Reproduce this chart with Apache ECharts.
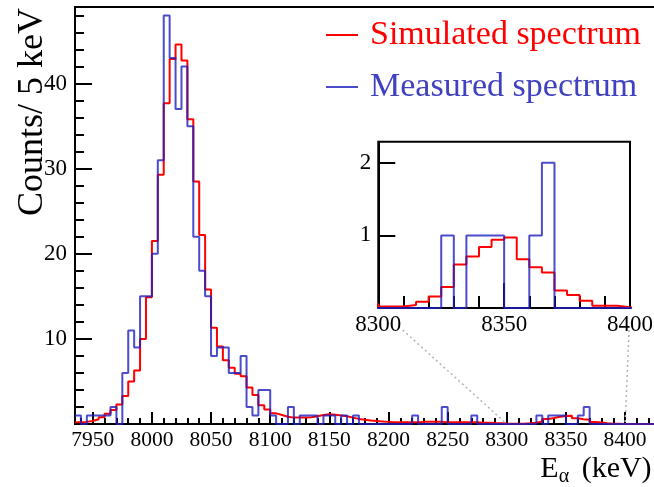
<!DOCTYPE html>
<html>
<head>
<meta charset="utf-8">
<script src="https://cdn.jsdelivr.net/npm/echarts@6/dist/echarts.min.js"></script>
<style>
  html, body { margin: 0; padding: 0; background: #fff; }
  #chart { width: 654px; height: 487px; }
</style>
</head>
<body>
<div id="chart"></div>
<script>
// histogram bins: 5 keV wide, first bin starts at 7935 keV
const binStart = 7935
const binWidth = 5

// measured spectrum (counts per bin)
const measured = [
  1, 0, 1, 1, 1, 1, 2, 0, 6, 11,          // 7935 - 7980
  9, 15, 15, 20, 31, 48, 43, 37, 42, 35,  // 7985 - 8030
  22, 18, 15, 8, 9, 9, 6, 6, 8, 2,        // 8035 - 8080
  1, 4, 4, 1, 0, 0, 2, 0, 1, 1,           // 8085 - 8130
  1, 0, 1, 1, 0, 1, 0, 1, 0, 0,           // 8135 - 8180
  0, 0, 0, 0, 0, 0, 0, 1, 0, 0,           // 8185 - 8230
  0, 0, 2, 0, 0, 0, 0, 1, 0, 0,           // 8235 - 8280
  0, 0, 0, 0, 0, 0, 0, 0, 1, 0,           // 8285 - 8330
  1, 1, 1, 0, 0, 1, 2, 0, 0, 0,           // 8335 - 8380
  0, 0, 0, 0, 0, 0, 0, 0                  // 8385 - 8420
]

// simulated spectrum
const simulated = [
  0.2, 0.25, 0.35, 0.55, 0.8, 1.2, 1.65, 2.3, 3.3, 5.0,
  6.3, 10.0, 14.9, 21.5, 29.3, 37.7, 42.9, 44.6, 42.7, 35.8,
  28.5, 22.2, 15.8, 11.3, 9.1, 7.5, 6.6, 5.9, 5.6, 4.3,
  3.4, 2.2, 1.7, 1.25, 1.05, 0.85, 0.75, 0.75, 0.75, 0.8,
  0.9, 1.05, 1.15, 1.1, 1.0, 0.9, 0.75, 0.6, 0.5, 0.4,
  0.35, 0.3, 0.25, 0.2, 0.2, 0.2, 0.2, 0.2, 0.25, 0.25,
  0.25, 0.25, 0.2, 0.2, 0.2, 0.2, 0.2, 0.2, 0.15, 0.15,
  0.12, 0.1, 0.05, 0.02, 0.02, 0.04, 0.085, 0.16, 0.29, 0.6,
  0.71, 0.84, 0.94, 0.97, 0.67, 0.56, 0.49, 0.24, 0.18, 0.1,
  0.03, 0.03, 0.01, 0, 0, 0, 0, 0
]

const xTickLabels = [7950, 8000, 8050, 8100, 8150, 8200, 8250, 8300, 8350, 8400]
const yTickLabels = [10, 20, 30, 40]
const insetXTickLabels = [8300, 8350, 8400]
const insetYTickLabels = [1, 2]
const legendNames = ['Simulated spectrum', 'Measured spectrum']

const serif = 'Liberation Serif'
const black = '#000'
const red = '#ff0000'
const blue = 'rgba(30,30,190,0.8)'

// minor tick positions
const xMinor = []
for (let v = 7940; v <= 8420; v += 10) if (v % 50) xMinor.push(v)
const yMinor = []
for (let v = 2; v < 49; v += 2) if (v % 10) yMinor.push(v)
const insetMinor = []
for (let v = 8310; v < 8400; v += 10) if (v !== 8350) insetMinor.push(v)

// bins -> points for a step line (last bin closed on its right edge)
const toSteps = (values) => {
  const pts = values.map((v, i) => [binStart + i * binWidth, v])
  pts.push([binStart + values.length * binWidth, values[values.length - 1]])
  return pts
}

const tick = (len, values) => ({
  inside: true, length: len, customValues: values,
  lineStyle: { color: black, width: 2 }
})
const plain = (v) => String(v)

const chart = echarts.init(document.getElementById('chart'))

const options = {
  animation: false,
  grid: [
    { left: 75, top: 7, width: 585.6, height: 417, outerBoundsMode: 'none', show: true, borderColor: black, borderWidth: 2 },
    { left: 378.3, top: 141.7, width: 251.7, height: 166.3, outerBoundsMode: 'none', show: true, borderColor: black, borderWidth: 2, backgroundColor: '#fff' }
  ],
  legend: {
    data: [
      { name: legendNames[0], textStyle: { color: red } },
      { name: legendNames[1], textStyle: { color: '#4040c0' } }
    ],
    orient: 'vertical',
    left: 321,
    top: 13,
    icon: 'rect',
    itemWidth: 32,
    itemHeight: 2,
    itemGap: 18,
    selectedMode: false,
    textStyle: { fontFamily: serif, fontSize: 34, padding: [0, 0, 0, 7] }
  },
  xAxis: [
    {
      gridIndex: 0, type: 'value', min: 7935, max: 8430,
      axisLine: { lineStyle: { color: black, width: 2 } },
      axisTick: tick(12, xTickLabels),
      axisLabel: { customValues: xTickLabels, formatter: plain, margin: 5, fontFamily: serif, fontSize: 21.5, color: black },
      splitLine: { show: false },
      name: '{a|E}{b|α }{a| (keV)}',
      nameLocation: 'end',
      nameGap: -9,
      nameMoveOverlap: false,
      nameTextStyle: {
        align: 'right', verticalAlign: 'top', padding: [27, 0, 0, 0], color: black,
        rich: {
          a: { fontFamily: serif, fontSize: 30, lineHeight: 36, color: black },
          b: { fontFamily: serif, fontSize: 20, lineHeight: 14, verticalAlign: 'bottom', color: black }
        }
      }
    },
    {
      gridIndex: 0, type: 'value', min: 7935, max: 8430, position: 'bottom',
      axisLine: { show: false }, axisTick: tick(6, xMinor),
      axisLabel: { show: false }, splitLine: { show: false }
    },
    {
      gridIndex: 1, type: 'value', min: 8300, max: 8400,
      axisLine: { lineStyle: { color: black, width: 2 } },
      axisTick: tick(25, [8350]),
      axisLabel: { customValues: insetXTickLabels, formatter: plain, showMinLabel: true, showMaxLabel: true, margin: 5, fontFamily: serif, fontSize: 23, color: black },
      splitLine: { show: false }
    },
    {
      gridIndex: 1, type: 'value', min: 8300, max: 8400, position: 'bottom',
      axisLine: { show: false }, axisTick: tick(12, insetMinor),
      axisLabel: { show: false }, splitLine: { show: false }
    }
  ],
  yAxis: [
    {
      gridIndex: 0, type: 'value', min: 0, max: 49,
      axisLine: { show: true, lineStyle: { color: black, width: 2 } },
      axisTick: tick(17, [0].concat(yTickLabels)),
      axisLabel: { customValues: yTickLabels, formatter: plain, margin: 8, fontFamily: serif, fontSize: 23, color: black },
      splitLine: { show: false },
      name: 'Counts/ 5 keV',
      nameLocation: 'end',
      nameGap: -1,
      nameRotate: 90,
      nameMoveOverlap: false,
      nameTextStyle: { fontFamily: serif, fontSize: 36, color: black, align: 'right', verticalAlign: 'bottom', padding: [0, 0, 24, 0] }
    },
    {
      gridIndex: 0, type: 'value', min: 0, max: 49, position: 'left',
      axisLine: { show: false }, axisTick: tick(9, yMinor),
      axisLabel: { show: false }, splitLine: { show: false }
    },
    {
      gridIndex: 1, type: 'value', min: 0, max: 2.29,
      axisLine: { show: true, lineStyle: { color: black, width: 2 } },
      axisTick: tick(17, insetYTickLabels),
      axisLabel: { customValues: insetYTickLabels, formatter: plain, margin: 7, fontFamily: serif, fontSize: 23, color: black },
      splitLine: { show: false }
    }
  ],
  series: [
    {
      name: legendNames[0], type: 'line', xAxisIndex: 0, yAxisIndex: 0,
      data: toSteps(simulated), step: 'end', symbol: 'none',
      lineStyle: { color: red, width: 2 }, itemStyle: { color: red }, z: 2
    },
    {
      name: legendNames[1], type: 'line', xAxisIndex: 0, yAxisIndex: 0,
      data: toSteps(measured), step: 'end', symbol: 'none',
      lineStyle: { color: blue, width: 2 }, itemStyle: { color: blue }, z: 3
    },
    {
      name: legendNames[0], type: 'line', xAxisIndex: 2, yAxisIndex: 2,
      data: toSteps(simulated), step: 'end', symbol: 'none',
      lineStyle: { color: red, width: 2 }, itemStyle: { color: red }, z: 4
    },
    {
      name: legendNames[1], type: 'line', xAxisIndex: 2, yAxisIndex: 2,
      data: toSteps(measured), step: 'end', symbol: 'none',
      lineStyle: { color: blue, width: 2 }, itemStyle: { color: blue }, z: 5
    }
  ]
}
chart.setOption(options)

// dotted guides from the inset corners down to the zoomed range on the main axis
const padBottom = chart.convertToPixel({ seriesIndex: 2 }, [8300, 0])[1] + 22
const guide = (insetPt, mainPt) => {
  const t = (padBottom - insetPt[1]) / (mainPt[1] - insetPt[1])
  return {
    type: 'line', silent: true, z: 1,
    shape: { x1: insetPt[0] + t * (mainPt[0] - insetPt[0]), y1: padBottom, x2: mainPt[0], y2: mainPt[1] },
    style: { stroke: '#b4b4b4', lineWidth: 1.5, lineDash: [2, 3] }
  }
}
chart.setOption({
  graphic: [
    guide(chart.convertToPixel({ seriesIndex: 2 }, [8300, 0]), chart.convertToPixel({ seriesIndex: 0 }, [8300, 0])),
    guide(chart.convertToPixel({ seriesIndex: 2 }, [8400, 0]), chart.convertToPixel({ seriesIndex: 0 }, [8400, 0]))
  ]
})
</script>
</body>
</html>
